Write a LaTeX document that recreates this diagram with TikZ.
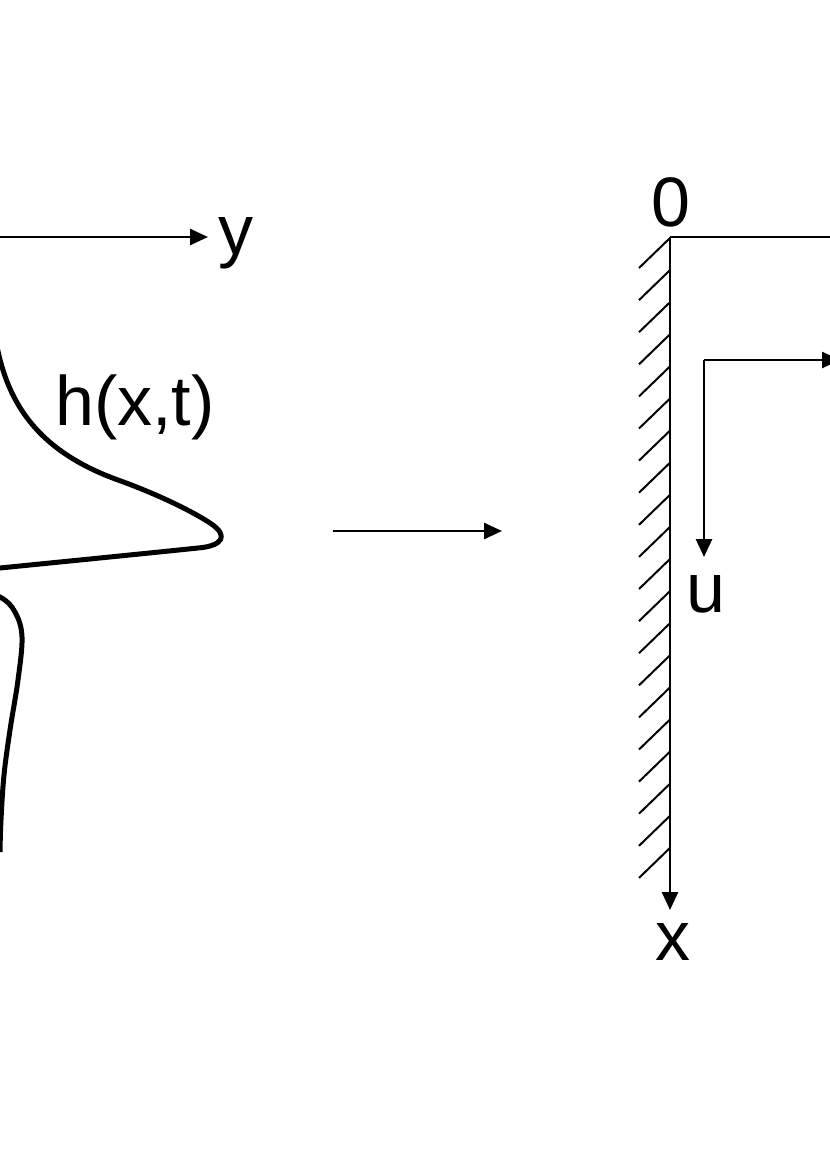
\documentclass[tikz,border=0pt]{standalone}
\usepackage{fontspec}
\setmainfont{Liberation Sans}
\usetikzlibrary{arrows.meta,positioning,calc}

\begin{document}
\begin{tikzpicture}[x=0.5pt, y=-0.5pt,
    axis/.style={line width=1.3pt, -{Triangle[length=9pt,width=8pt]}},
    profile/.style={line width=2.5pt, line join=round},
    hatch/.style={line width=1pt},
    lbl/.style={inner sep=0pt, font=\fontsize{35}{40}\selectfont}]
    \useasboundingbox (0,0) rectangle (830,1174);
    \clip (0,0) rectangle (830,1174);

    % left part: free surface profile
    \coordinate (yorig) at (-20,237);
    \coordinate (ytip) at (208,237);
    \node[lbl, anchor=base] (ylab) at (236,254) {y};
    \node[lbl, anchor=base] (hlab) at (135,425) {h(x,t)};
    \draw[axis] (yorig) -- (ytip);
    \draw[profile] (-5,335) .. controls (5,400) and (35,450) .. (118,480)
        .. controls (160,495) and (195,513) .. (210,523)
        .. controls (230,536) and (222,546) .. (198,548)
        .. controls (150,553) and (60,562) .. (-40,572);
    \draw[profile] plot[smooth, tension=0.6] coordinates {(-30,588) (0,597) (15,612) (22,637) (18,680) (10,730) (4,775) (1,820) (0,852)};

    % transformation arrow
    \coordinate (mfrom) at (333,531);
    \coordinate (mto) at (502,531);
    \draw[axis] (mfrom) -- (mto);

    % right part: wall and coordinates
    \coordinate (wtop) at (670,237);
    \coordinate (wbot) at (670,910);
    \coordinate (wright) at (840,237);
    \node[lbl, anchor=base] (zlab) at (671,226) {0};
    \node[lbl, anchor=base] (xlab) at (673,960) {x};
    \draw[line width=1.3pt] (wtop) -- (wright);
    \draw[axis] (wtop) -- (wbot);
    \foreach \i in {0,...,19}
        \draw[hatch] ($(wtop)+(0,1+32.1*\i)$) -- ++(-31,30);

    \coordinate (corner) at (704,360);
    \coordinate (vtip) at (840,360);
    \coordinate (utip) at (704,557);
    \node[lbl, anchor=base] (ulab) at (706,612) {u};
    \draw[axis] (corner) -- (vtip);
    \draw[axis] (corner) -- (utip);
\end{tikzpicture}
\end{document}
